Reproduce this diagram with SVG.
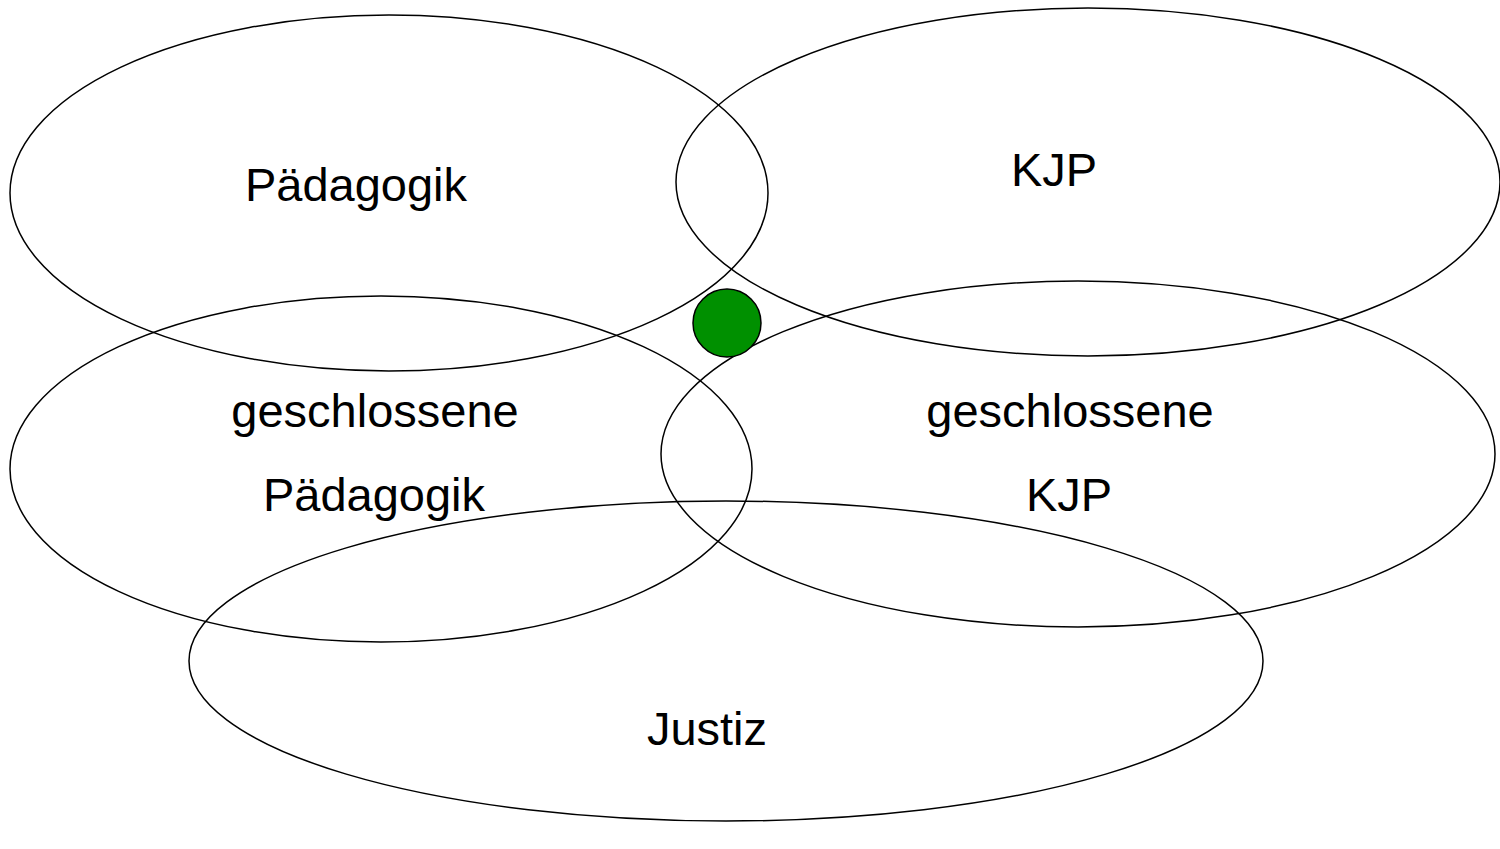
<svg xmlns="http://www.w3.org/2000/svg" width="1500" height="849" viewBox="0 0 1500 849">
<style>
.e{fill:none;stroke:#000;stroke-width:1.5}
.t{font-family:"Liberation Sans",Arial,sans-serif;font-size:47px;fill:#000;text-anchor:middle}
</style>
<rect width="1500" height="849" fill="#fff"/>
<g id="paedagogik"><ellipse class="e" cx="389" cy="193" rx="379" ry="178"/><text class="t" x="356" y="201">Pädagogik</text></g>
<g id="kjp"><ellipse class="e" cx="1088" cy="182" rx="412" ry="174"/><text class="t" x="1054" y="186">KJP</text></g>
<g id="geschl-paed"><ellipse class="e" cx="381" cy="469" rx="371" ry="173"/><text class="t" x="375" y="427">geschlossene</text><text class="t" x="374" y="511">Pädagogik</text></g>
<g id="geschl-kjp"><ellipse class="e" cx="1078" cy="454" rx="417" ry="173"/><text class="t" x="1070" y="427">geschlossene</text><text class="t" x="1069" y="511">KJP</text></g>
<g id="justiz"><ellipse class="e" cx="726" cy="661" rx="537" ry="160"/><text class="t" x="707" y="745">Justiz</text></g>
<g id="dot"><circle cx="727" cy="323" r="34" fill="#009000" stroke="#000" stroke-width="1.5"/></g>
<g id="connectors"/>
</svg>
